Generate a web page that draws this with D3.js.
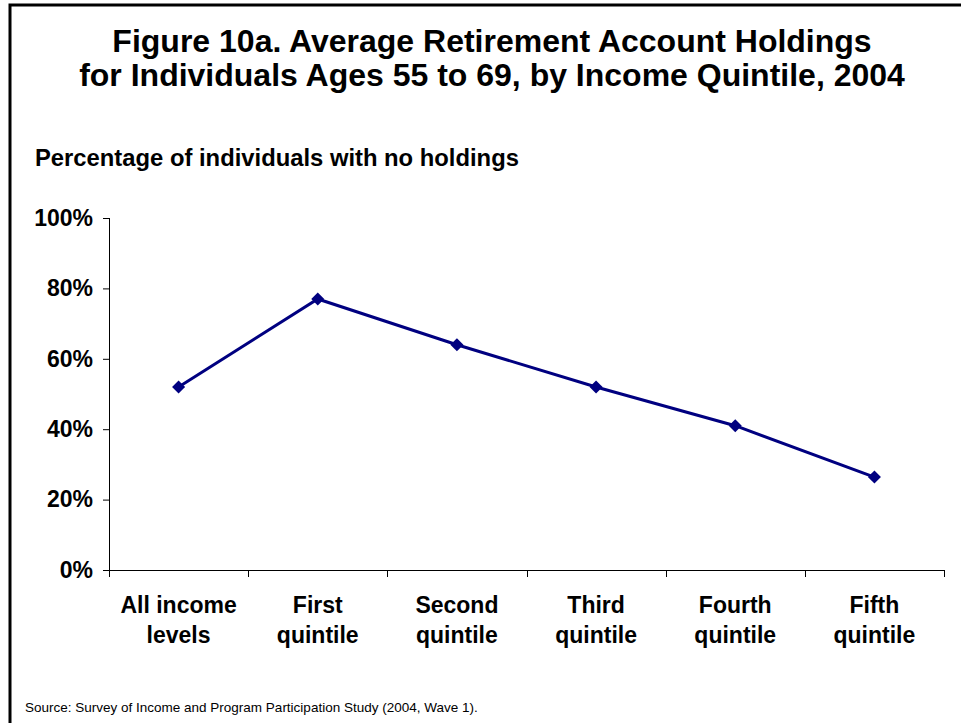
<!DOCTYPE html>
<html>
<head>
<meta charset="utf-8">
<script src="https://cdn.jsdelivr.net/npm/d3@7"></script>
<style>
body { margin: 0; background: #fff; }
svg { display: block; font-family: Arial, "Liberation Sans", sans-serif; }
</style>
</head>
<body>
<svg width="961" height="723"></svg>
<script>
var categories = [['All income', 'levels'], ['First', 'quintile'], ['Second', 'quintile'],
                  ['Third', 'quintile'], ['Fourth', 'quintile'], ['Fifth', 'quintile']];
var noHoldings = [0.52, 0.77, 0.64, 0.52, 0.41, 0.264];
var yTicks = [0, 0.2, 0.4, 0.6, 0.8, 1.0];

var svg = d3.select('svg');
var width = 961;
var height = 723;

// frame, only top and left edges fall inside the picture
svg.append('rect')
  .attr('x', 10).attr('y', 5)
  .attr('width', 1200).attr('height', 1200)
  .attr('fill', 'none')
  .attr('stroke', '#000')
  .attr('stroke-width', 3);

var plotLeft = 109, plotRight = 944, plotTop = 218, plotBottom = 570;

var x = d3.scaleBand()
  .domain(d3.range(categories.length))
  .range([plotLeft, plotRight]);

var y = d3.scaleLinear()
  .domain([0, 1])
  .range([plotBottom, plotTop]);

// title
var title = svg.append('text')
  .attr('text-anchor', 'middle')
  .attr('font-size', '32px')
  .attr('font-weight', 'bold')
  .attr('fill', '#000');
title.append('tspan').attr('x', 492).attr('y', 52)
  .text('Figure 10a. Average Retirement Account Holdings');
title.append('tspan').attr('x', 492).attr('y', 86)
  .text('for Individuals Ages 55 to 69, by Income Quintile, 2004');

svg.append('text')
  .attr('x', 35).attr('y', 166)
  .attr('font-size', '23.8px')
  .attr('font-weight', 'bold')
  .text('Percentage of individuals with no holdings');

// y axis
var yAxis = d3.axisLeft(y)
  .tickValues(yTicks)
  .tickFormat(d3.format('.0%'))
  .tickSize(6)
  .tickPadding(10);

var gy = svg.append('g')
  .attr('transform', 'translate(' + plotLeft + ',0)')
  .call(yAxis);
gy.select('.domain').attr('d', 'M0.5,' + plotTop + 'V' + plotBottom);
gy.selectAll('.tick line').attr('stroke', '#000');
gy.selectAll('text')
  .attr('font-size', '23px')
  .attr('font-weight', 'bold')
  .attr('font-family', 'Arial, "Liberation Sans", sans-serif')
  .attr('fill', '#000');

// x axis: ticks on the category boundaries
var boundaries = x.domain().map(function(d) { return x(d); }).concat([plotRight]);
var gx = svg.append('g');
gx.append('line')
  .attr('x1', plotLeft).attr('x2', plotRight)
  .attr('y1', plotBottom + 0.5).attr('y2', plotBottom + 0.5)
  .attr('stroke', '#000');
gx.selectAll('.xtick')
  .data(boundaries)
  .enter()
  .append('line')
  .attr('class', 'xtick')
  .attr('x1', function(d) { return Math.round(d) + 0.5; })
  .attr('x2', function(d) { return Math.round(d) + 0.5; })
  .attr('y1', plotBottom)
  .attr('y2', plotBottom + 7)
  .attr('stroke', '#000');

var labels = gx.selectAll('.xlabel')
  .data(categories)
  .enter()
  .append('text')
  .attr('class', 'xlabel')
  .attr('text-anchor', 'middle')
  .attr('font-size', '23px')
  .attr('font-weight', 'bold');
labels.each(function(d, i) {
  var t = d3.select(this);
  var cx = x(i) + x.bandwidth() / 2;
  d.forEach(function(line, j) {
    t.append('tspan').attr('x', cx).attr('y', 613 + j * 30).text(line);
  });
});

// series
var line = d3.line()
  .x(function(d, i) { return x(i) + x.bandwidth() / 2; })
  .y(function(d) { return y(d); });

svg.append('path')
  .datum(noHoldings)
  .attr('d', line)
  .attr('fill', 'none')
  .attr('stroke', '#000080')
  .attr('stroke-width', 3);

svg.selectAll('.marker')
  .data(noHoldings)
  .enter()
  .append('path')
  .attr('class', 'marker')
  .attr('d', d3.symbol().type(d3.symbolSquare).size(85))
  .attr('transform', function(d, i) {
    return 'translate(' + (x(i) + x.bandwidth() / 2) + ',' + y(d) + ') rotate(45)';
  })
  .attr('fill', '#000080');

// source
svg.append('text')
  .attr('x', 25).attr('y', 712)
  .attr('font-size', '13.5px')
  .text('Source: Survey of Income and Program Participation Study (2004, Wave 1).');
</script>
</body>
</html>
